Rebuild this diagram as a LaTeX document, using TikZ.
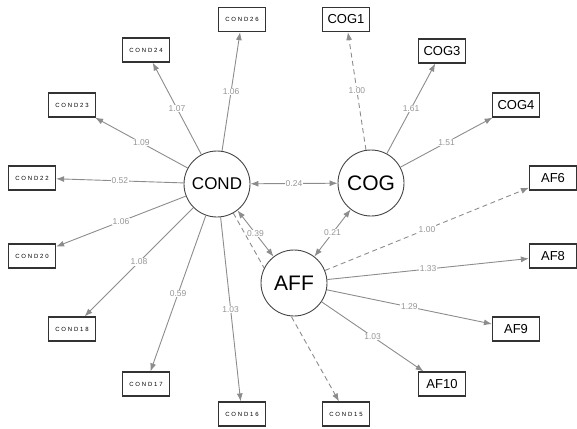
\documentclass[tikz,border=0pt]{standalone}
\usepackage{fontspec}
\setmainfont{Liberation Sans}
\newfontfamily\condfont[LetterSpace=30]{Liberation Sans}
\usetikzlibrary{arrows.meta}
\definecolor{edgegray}{RGB}{140,140,140}
\definecolor{numgray}{RGB}{150,150,150}
\definecolor{rimgray}{RGB}{70,70,70}

\begin{document}
\begin{tikzpicture}[
  x=1pt, y=-1pt,
  lat/.style={circle, draw=rimgray, fill=white, line width=0.9pt, minimum size=66pt,
              inner sep=0pt, font=\fontsize{21}{21}\selectfont},
  obs/.style={draw=black!80, fill=white, line width=1.2pt, minimum width=47pt,
              minimum height=24pt, inner sep=0pt, font=\fontsize{13}{13}\selectfont},
  cnd/.style={obs, font=\condfont\fontsize{6}{6}\selectfont},
  ld/.style={->, draw=edgegray, line width=0.9pt},
  fx/.style={ld, dashed, dash pattern=on 5pt off 3.5pt},
  cv/.style={<->, draw=edgegray, line width=0.9pt},
  wt/.style={fill=white, inner sep=0.6pt, text=numgray, font=\fontsize{8.5}{8.5}\selectfont},
  >={Latex[length=8pt,width=6pt]}
]
  \useasboundingbox (0,0) rectangle (577,428);

  % latent factors
  \node[lat, font=\fontsize{17}{17}\selectfont] (cond) at (217,184) {COND};
  \node[lat] (cog) at (371,183) {COG};

  % indicators
  \node[cnd] (c26) at (242,19.5) {COND26};
  \node[cnd] (c24) at (146,50)   {COND24};
  \node[cnd] (c23) at (72,105)   {COND23};
  \node[cnd] (c22) at (32,178)   {COND22};
  \node[cnd] (c20) at (32,256)   {COND20};
  \node[cnd] (c18) at (72,329)   {COND18};
  \node[cnd] (c17) at (146,384)  {COND17};
  \node[cnd] (c16) at (242,414)  {COND16};
  \node[cnd] (c15) at (346,414)  {COND15};
  \node[obs] (g1)  at (346,19.5) {COG1};
  \node[obs] (g3)  at (442,51)   {COG3};
  \node[obs] (g4)  at (516,105)  {COG4};
  \node[obs] (a6)  at (553,178)  {AF6};
  \node[obs] (a8)  at (553,256)  {AF8};
  \node[obs] (a9)  at (516,329)  {AF9};
  \node[obs] (a10) at (442,384)  {AF10};

  % fixed loading runs behind AFF
  \draw[fx] (cond) -- (c15);
  \node[lat] (aff) at (294,283) {AFF};

  % COND loadings
  \draw[ld] (cond) -- node[wt]{1.06} (c26);
  \draw[ld] (cond) -- node[wt]{1.07} (c24);
  \draw[ld] (cond) -- node[wt]{1.09} (c23);
  \draw[ld] (cond) -- node[wt]{0.52} (c22);
  \draw[ld] (cond) -- node[wt]{1.06} (c20);
  \draw[ld] (cond) -- node[wt]{1.08} (c18);
  \draw[ld] (cond) -- node[wt]{0.59} (c17);
  \draw[ld] (cond) -- node[wt]{1.03} (c16);

  % COG loadings
  \draw[fx] (cog) -- node[wt]{1.00} (g1);
  \draw[ld] (cog) -- node[wt]{1.61} (g3);
  \draw[ld] (cog) -- node[wt]{1.51} (g4);

  % AFF loadings
  \draw[fx] (aff) -- node[wt]{1.00} (a6);
  \draw[ld] (aff) -- node[wt]{1.33} (a8);
  \draw[ld] (aff) -- node[wt]{1.29} (a9);
  \draw[ld] (aff) -- node[wt]{1.03} (a10);

  % covariances
  \draw[cv] (cond) -- node[wt]{0.24} (cog);
  \draw[cv] (cond) -- node[wt]{0.39} (aff);
  \draw[cv] (cog) -- node[wt]{0.21} (aff);
\end{tikzpicture}
\end{document}
